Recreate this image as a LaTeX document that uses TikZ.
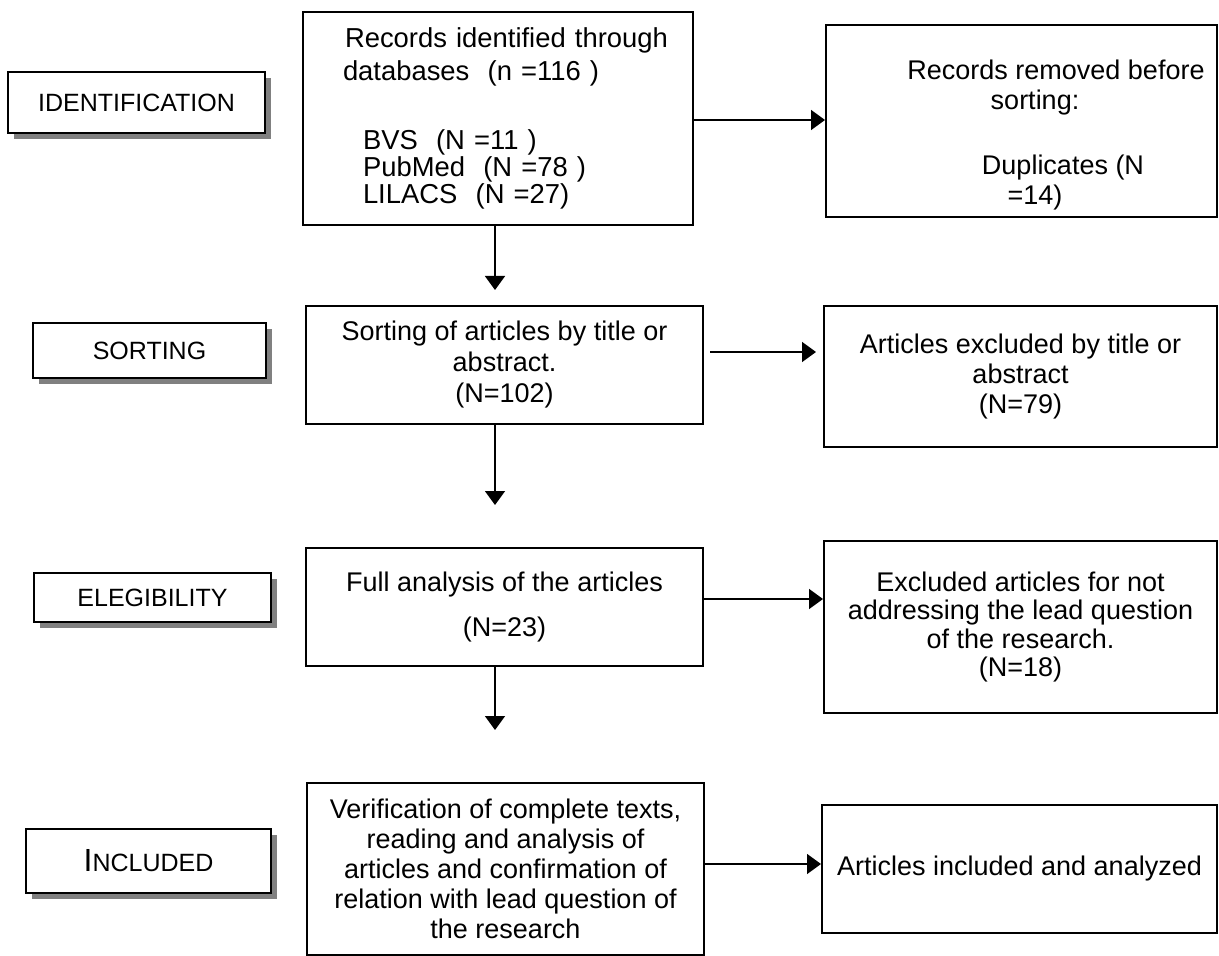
\documentclass[tikz,border=0pt]{standalone}
\usepackage{fontspec}
\setmainfont{Liberation Sans}
\usetikzlibrary{arrows.meta,shadows}

\begin{document}
\begin{tikzpicture}[x = 0.5pt, y = -0.5pt, line width = 1pt,
                    stage/.style = {rectangle, draw, fill = white, inner sep = 0pt,
                                    font = \fontsize{12.5}{15}\selectfont,
                                    drop shadow = {shadow xshift = 3pt, shadow yshift = -3pt,
                                                   fill = black!50, opacity = 1}},
                    box/.style = {rectangle, draw, inner sep = 0pt, align = center,
                                  font = \fontsize{13.5}{15}\selectfont},
                    arr/.style = {-{Triangle[length = 7pt, width = 10pt]}, line width = 0.75pt}]
  \useasboundingbox (0, 0) rectangle (1219, 956);
  % stage labels
  \node [stage, minimum width = 128.5pt, minimum height = 30.5pt] (s1) at (136.5, 102.5) {IDENTIFICATION};
  \node [stage, minimum width = 116.5pt, minimum height = 27.5pt] (s2) at (149.5, 350.5) {SORTING};
  \node [stage, minimum width = 118.5pt, minimum height = 24.5pt] (s3) at (152.5, 597.5) {ELEGIBILITY};
  \node [stage, minimum width = 122.5pt, minimum height = 32pt] (s4) at (148.5, 861) {{\fontsize{16}{16}\selectfont I}NCLUDED};
  % flow boxes
  \node [box, align = left, text width = 155pt, font = \fontsize{13.7}{13.5}\selectfont,
         minimum width = 195pt, minimum height = 106.5pt] (b1) at (498, 118.5)
        {\mbox{\hspace{1pt}Records identified through}\\[3pt]
         \mbox{databases~~(n =116 )}\\[21pt]
         \mbox{\hspace{10pt}BVS~~(N =11 )}\\
         \mbox{\hspace{10pt}PubMed~~(N =78 )}\\
         \mbox{\hspace{10pt}LILACS~~(N =27)}};
  \node [box, minimum width = 195.5pt, minimum height = 96pt] (b2) at (1021.5, 121)
        {\rule{0pt}{24pt}\hspace*{34.5pt}Records removed before\\
         \hspace*{13.5pt}sorting:\\[17.5pt]
         \hspace*{41.5pt}Duplicates (N\\
         \hspace*{13.5pt}=14)};
  \node [box, font = \fontsize{13.5}{15.5}\selectfont,
         minimum width = 198.5pt, minimum height = 59pt] (b3) at (504.5, 365)
        {Sorting of articles by title or\\ abstract.\\ (N=102)};
  \node [box, minimum width = 196.5pt, minimum height = 70.5pt] (b4) at (1020.5, 376.5)
        {Articles excluded by title or\\ abstract\\ (N=79)};
  \node [box, minimum width = 198.5pt, minimum height = 59pt] (b5) at (504.5, 607)
        {Full analysis of the articles\\[7.5pt] (N=23)};
  \node [box, font = \fontsize{13.5}{14.2}\selectfont,
         minimum width = 196.5pt, minimum height = 86pt] (b6) at (1020.5, 627)
        {Excluded articles for not\\ addressing the lead question\\ of the research.\\ (N=18)};
  \node [box, minimum width = 198.5pt, minimum height = 86pt] (b7) at (505.5, 869)
        {Verification of complete texts,\\ reading and analysis of\\ articles and confirmation of\\
         relation with lead question of\\ the research};
  \node [box, minimum width = 197.5pt, minimum height = 64pt] (b8) at (1019.5, 869)
        {Articles included and analyzed};
  % arrow levels and tips
  \coordinate (r1) at (0, 120);
  \coordinate (r2) at (0, 352);
  \coordinate (r3) at (0, 599);
  \coordinate (r4) at (0, 864);
  \coordinate (t1) at (495, 290);
  \coordinate (t2) at (495, 505);
  \coordinate (t3) at (495, 730);
  \draw [arr] (b1.east |- r1) -- (b2.west |- r1);
  \draw [arr, shorten <= 3pt, shorten >= 3.5pt] (b3.east |- r2) -- (b4.west |- r2);
  \draw [arr] (b5.east |- r3) -- (b6.west |- r3);
  \draw [arr] (b7.east |- r4) -- (b8.west |- r4);
  \draw [arr] (b1.south -| t1) -- (t1);
  \draw [arr] (b3.south -| t2) -- (t2);
  \draw [arr] (b5.south -| t3) -- (t3);
\end{tikzpicture}
\end{document}
